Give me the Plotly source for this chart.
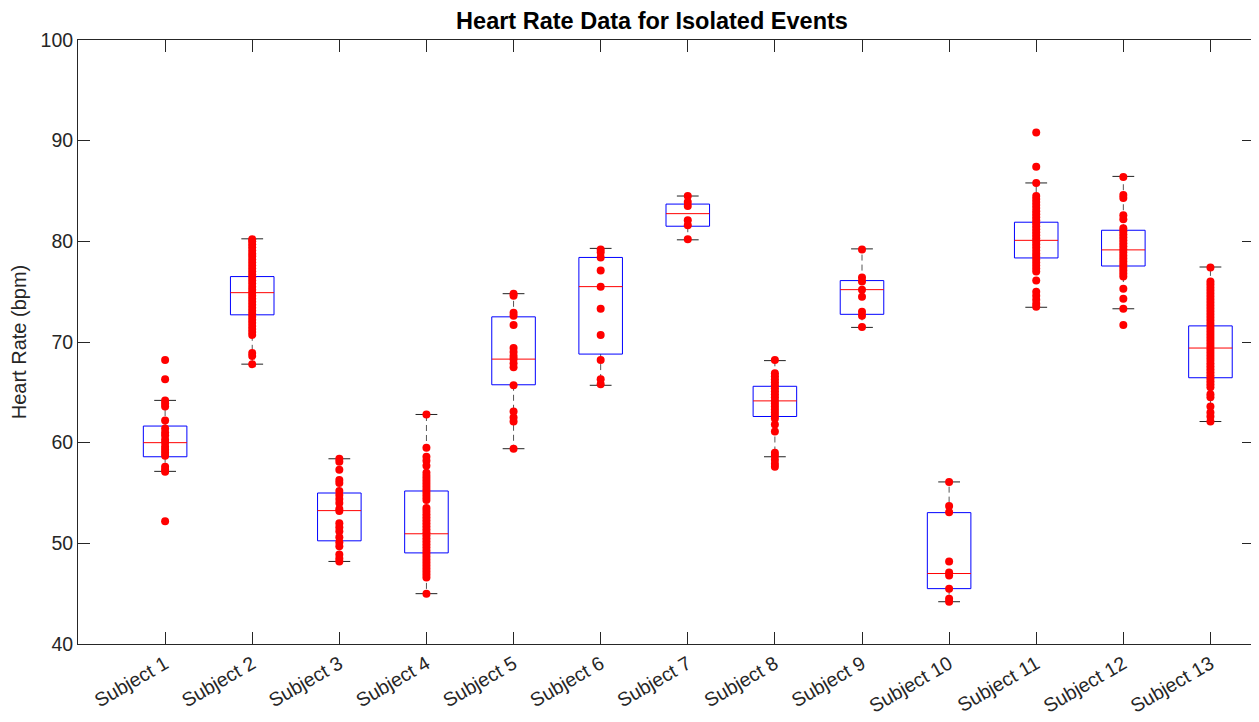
import plotly.graph_objects as go

subjects = ["Subject 1", "Subject 2", "Subject 3", "Subject 4", "Subject 5", "Subject 6", "Subject 7",
            "Subject 8", "Subject 9", "Subject 10", "Subject 11", "Subject 12", "Subject 13"]

# box statistics
q1 = [58.6, 72.7, 50.25, 49.05, 65.75, 68.8, 81.5, 62.6, 72.75, 45.5, 78.35, 77.55, 66.45]
med = [60.0, 74.9, 53.25, 50.95, 68.3, 75.5, 82.75, 64.15, 75.2, 47.0, 80.1, 79.15, 69.4]
q3 = [61.65, 76.5, 55.0, 55.2, 72.5, 78.4, 83.7, 65.6, 76.1, 53.05, 81.9, 81.1, 71.6]
w_lo = [57.15, 67.8, 48.2, 45.0, 59.4, 65.7, 80.15, 58.6, 71.45, 44.2, 73.45, 73.3, 62.1]
w_hi = [64.2, 80.25, 58.4, 62.8, 74.8, 79.3, 84.5, 68.15, 79.25, 56.1, 85.8, 86.45, 77.45]

# individual heart-rate observations per subject
s1 = [68.2, 66.3, 64.2, 63.9, 63.6, 62.2, 61.4, 61.0, 60.7, 60.3, 60.0, 59.6, 59.3, 59.0, 58.7, 57.6, 57.3, 57.1, 52.2]
s2 = [80.2, 80.0, 79.7, 79.4, 79.1, 78.8, 78.5, 78.2, 77.9, 77.6, 77.3, 77.0, 76.7, 76.4, 76.1, 75.8, 75.5, 75.2,
      74.9, 74.6, 74.3, 74.0, 73.7, 73.4, 73.1, 72.8, 72.5, 72.2, 71.9, 71.6, 71.3, 71.0, 70.7, 68.9, 68.6, 67.8]
s3 = [58.4, 58.1, 57.3, 56.3, 56.0, 55.2, 54.8, 54.4, 54.0, 53.4, 53.2, 52.0, 51.6, 51.2, 50.6, 50.1, 49.7, 48.9, 48.5, 48.2]
s4 = [62.8, 59.5, 58.6, 58.2, 57.7, 57.0, 56.7, 56.4, 56.1, 55.8, 55.5, 55.2, 54.9, 54.6, 54.3, 53.5, 53.2, 52.9,
      52.6, 52.3, 52.0, 51.7, 51.4, 51.1, 50.8, 50.5, 50.2, 49.9, 49.6, 49.3, 49.0, 48.7, 48.4, 48.1, 47.8, 47.5,
      47.2, 46.9, 46.6, 45.0]
s5 = [74.8, 74.6, 72.9, 72.6, 71.7, 69.4, 69.0, 68.6, 68.3, 67.9, 67.5, 65.7, 63.1, 62.5, 62.1, 59.4]
s6 = [79.2, 78.9, 78.4, 77.1, 75.5, 73.3, 70.7, 68.2, 66.3, 65.8]
s7 = [84.5, 83.9, 83.5, 82.1, 81.6, 80.2]
s8 = [68.2, 66.9, 66.6, 66.3, 66.0, 65.7, 65.4, 65.1, 64.8, 64.5, 64.2, 63.9, 63.6, 63.3, 63.0, 62.7, 62.4, 61.8,
      61.1, 59.0, 58.7, 58.3, 57.9, 57.6]
s9 = [79.2, 76.4, 76.0, 75.2, 74.5, 73.0, 72.6, 71.5]
s10 = [56.1, 53.7, 53.1, 48.2, 47.1, 46.8, 45.5, 44.5, 44.2]
s11 = [90.8, 87.4, 85.8, 84.5, 84.2, 83.9, 83.6, 83.3, 83.0, 82.7, 82.4, 82.1, 81.8, 81.5, 81.2, 80.9, 80.6, 80.3,
       80.0, 79.7, 79.4, 79.1, 78.8, 78.5, 78.2, 77.9, 77.6, 77.3, 77.0, 76.1, 75.0, 74.6, 74.2, 73.8, 73.5]
s12 = [86.4, 84.6, 84.3, 82.6, 82.2, 81.3, 81.0, 80.7, 80.4, 80.1, 79.8, 79.5, 79.2, 78.9, 78.6, 78.3, 78.0, 77.7,
       77.4, 77.1, 76.8, 76.5, 75.3, 74.3, 73.3, 71.7]
s13 = [77.4, 76.0, 75.7, 75.4, 75.1, 74.8, 74.5, 74.2, 73.9, 73.6, 73.3, 73.0, 72.7, 72.4, 72.1, 71.8, 71.5, 71.2,
       70.9, 70.6, 70.3, 70.0, 69.7, 69.4, 69.1, 68.8, 68.5, 68.2, 67.9, 67.6, 67.3, 67.0, 66.7, 66.4, 66.1, 65.8,
       65.5, 64.8, 64.5, 63.6, 63.0, 62.6, 62.1]
observations = [s1, s2, s3, s4, s5, s6, s7, s8, s9, s10, s11, s12, s13]

BOX_HALF = 0.25
CAP_HALF = 0.125
positions = list(range(1, len(subjects) + 1))

bx, by, mx, my, wx, wy, cx, cy = [], [], [], [], [], [], [], []
for p, a, m, b, lo, hi in zip(positions, q1, med, q3, w_lo, w_hi):
    bx += [p - BOX_HALF, p + BOX_HALF, p + BOX_HALF, p - BOX_HALF, p - BOX_HALF, None]
    by += [a, a, b, b, a, None]
    mx += [p - BOX_HALF, p + BOX_HALF, None]
    my += [m, m, None]
    wx += [p, p, None, p, p, None]
    wy += [b, hi, None, a, lo, None]
    cx += [p - CAP_HALF, p + CAP_HALF, None, p - CAP_HALF, p + CAP_HALF, None]
    cy += [hi, hi, None, lo, lo, None]

px, py = [], []
for p, obs in zip(positions, observations):
    px += [p] * len(obs)
    py += obs

fig = go.Figure()
fig.add_trace(go.Scatter(x=wx, y=wy, mode="lines", line=dict(color="#555555", width=1, dash="6px,4px"),
                         hoverinfo="skip", showlegend=False))
fig.add_trace(go.Scatter(x=cx, y=cy, mode="lines", line=dict(color="#222222", width=1),
                         hoverinfo="skip", showlegend=False))
fig.add_trace(go.Scatter(x=bx, y=by, mode="lines", line=dict(color="#0000FF", width=1),
                         hoverinfo="skip", showlegend=False))
fig.add_trace(go.Scatter(x=mx, y=my, mode="lines", line=dict(color="#FF0000", width=1),
                         hoverinfo="skip", showlegend=False))
fig.add_trace(go.Scatter(x=px, y=py, mode="markers", marker=dict(color="#FF0000", size=8, line=dict(width=0)),
                         showlegend=False))

FONT = "Liberation Sans, Arial, sans-serif"
axis_common = dict(showline=True, linecolor="#262626", linewidth=1, mirror="ticks",
                   ticks="inside", ticklen=12, tickcolor="#262626", tickwidth=1,
                   showgrid=False, zeroline=False,
                   tickfont=dict(family=FONT, size=19.5, color="#262626"))

# the page body adds an 8px margin, so the figure is 8px smaller and margins shifted
fig.update_layout(
    width=1251, height=714,
    margin=dict(l=70, r=5, t=32, b=78),
    paper_bgcolor="white", plot_bgcolor="white",
    title=dict(text="<b>Heart Rate Data for Isolated Events</b>", x=644 / 1251, xref="container",
               xanchor="center", y=1 - 13 / 714, yref="container", yanchor="middle",
               font=dict(family=FONT, size=23.5, color="black")),
    xaxis=dict(range=[0, 13.5], tickmode="array", tickvals=positions, ticktext=subjects,
               tickangle=-30, **axis_common),
    yaxis=dict(range=[40, 100], tickmode="array", tickvals=[40, 50, 60, 70, 80, 90, 100],
               title=dict(text="Heart Rate (bpm)", standoff=8,
                          font=dict(family=FONT, size=20, color="#262626")),
               **axis_common),
)

fig.write_html("out.html")
